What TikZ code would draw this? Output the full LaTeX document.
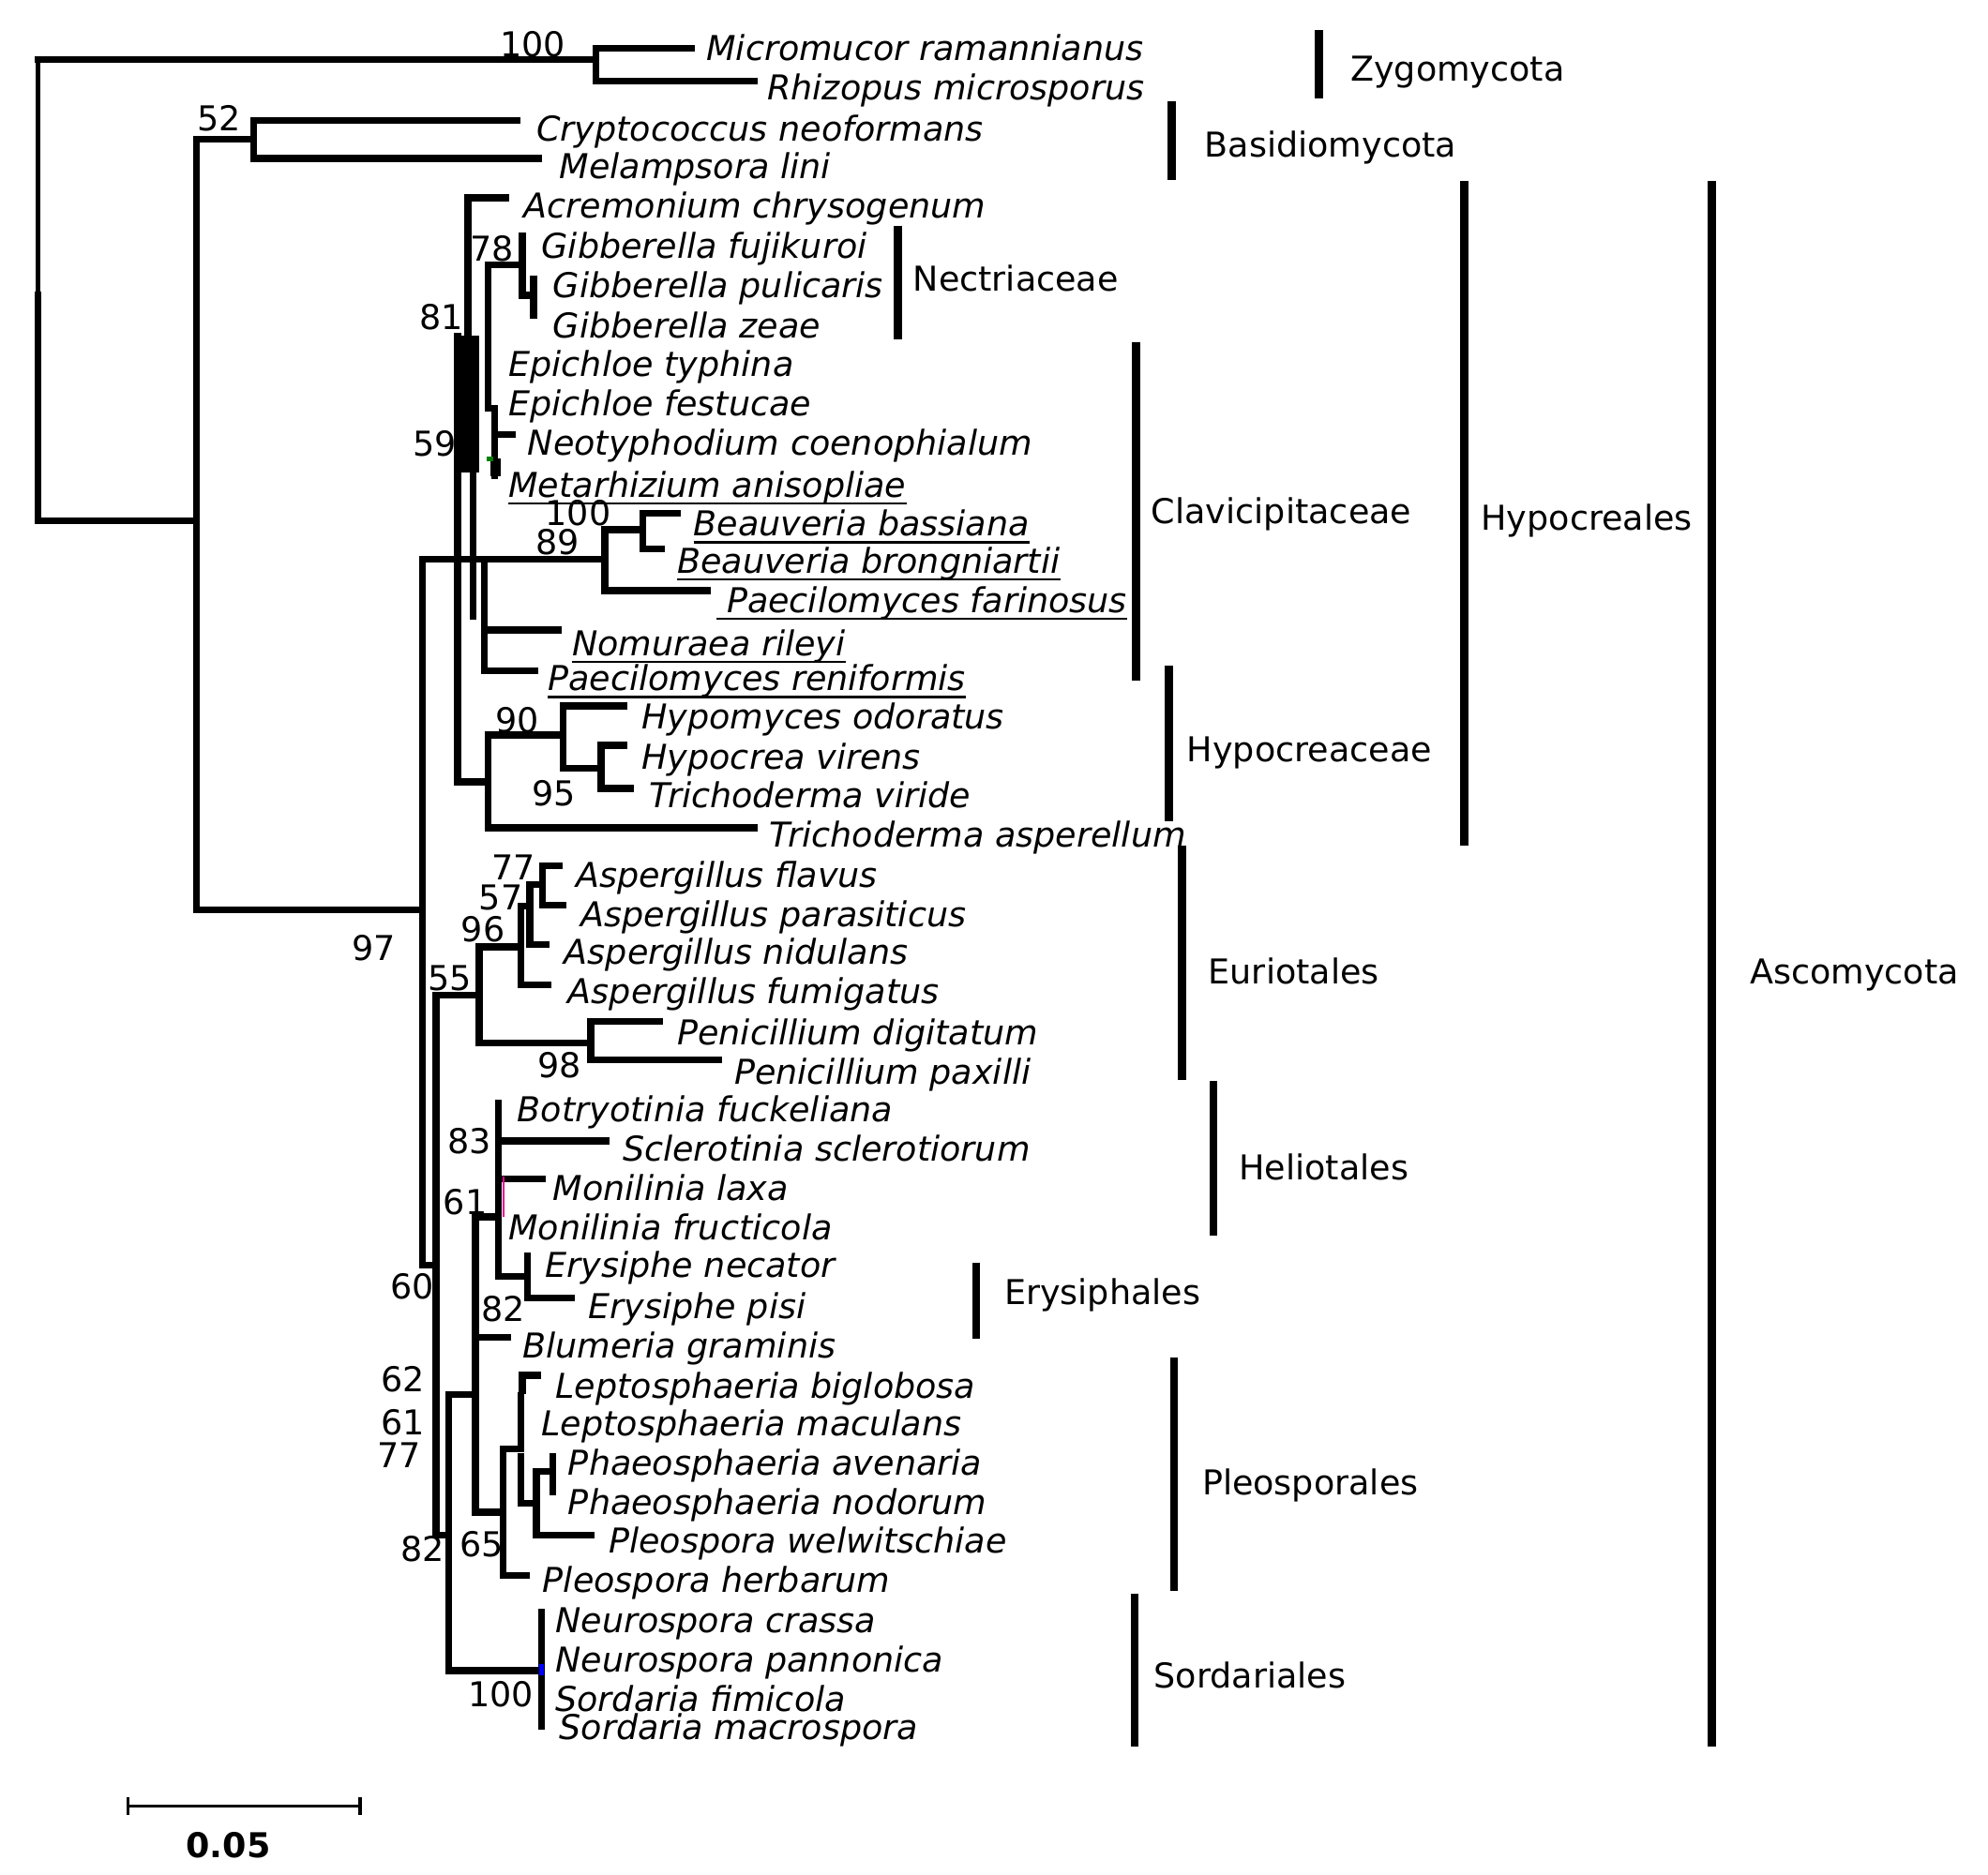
\documentclass[tikz,border=0pt]{standalone}
\usepackage{fontspec}
\setmainfont{DejaVu Sans}[ItalicFont={DejaVu Sans Oblique},BoldFont={DejaVu Sans Bold}]
\begin{document}
\begin{tikzpicture}[x=1pt,y=-1pt,
  br/.style={line width=5.5pt,line cap=rect},
  thinbr/.style={line width=3.5pt,line cap=rect},
  cbar/.style={line width=6.5pt},
  ul/.style={line width=1.8pt},
  leaf/.style={anchor=base west,inner sep=0pt,font=\fontsize{27}{32}\selectfont\itshape},
  grp/.style={anchor=base west,inner sep=0pt,font=\fontsize{27}{32}\selectfont},
  bs/.style={inner sep=0pt,font=\fontsize{27}{32}\selectfont}]
\useasboundingbox (0,0) rectangle (1568,1479);
\fill[white] (0,0) rectangle (1568,1479);

% ---------- coordinates ----------
\coordinate (rT) at (30,47);
\coordinate (rGapA) at (30,228);
\coordinate (rGapB) at (30,233);
\coordinate (rB) at (30,411);
\coordinate (nZ) at (470,47);
\coordinate (tMic) at (545,38);
\coordinate (tRhi) at (595,64);
\coordinate (nF) at (155,411);
\coordinate (nB) at (200,110);
\coordinate (tCry) at (408,95);
\coordinate (tMel) at (425,125);
\coordinate (nAsc) at (333,718);
\coordinate (nHyp) at (361,441);
\coordinate (nRest) at (344,998);
% Hypocreales
\coordinate (tHT) at (361,265);
\coordinate (tAcV) at (369,265);
\coordinate (tAcr) at (399,156);
\coordinate (tEpi) at (385,322);
\coordinate (n78) at (412,209);
\coordinate (tFuj) at (412,186);
\coordinate (nGib) at (421,233);
\coordinate (tPul) at (421,220);
\coordinate (tZea) at (421,249);
\coordinate (tNeoV) at (390,322);
\coordinate (tMetV) at (390,375);
\coordinate (tNeo) at (404,343);
\coordinate (v59a) at (373,373);
\coordinate (v59b) at (373,486);
\coordinate (nBN) at (382,441);
\coordinate (n89) at (477,441);
\coordinate (tNom) at (440,497);
\coordinate (tRen) at (422,529);
\coordinate (n100b) at (507,418);
\coordinate (tFar) at (558,466);
\coordinate (tBas) at (534,405);
\coordinate (tBro) at (522,433);
\coordinate (nHcae) at (385,617);
\coordinate (tTas) at (595,653);
\coordinate (n90) at (444,580);
\coordinate (tHyo) at (492,557);
\coordinate (n95) at (474,606);
\coordinate (tVir) at (492,588);
\coordinate (tTvi) at (497,622);
% Eurotiales
\coordinate (nEur) at (378,785);
\coordinate (nAsp) at (411,747);
\coordinate (n57) at (418,715);
\coordinate (n77) at (428,698);
\coordinate (tFla) at (441,683);
\coordinate (tPar) at (444,714);
\coordinate (tNid) at (431,745);
\coordinate (tFum) at (432,777);
\coordinate (nPen) at (466,823);
\coordinate (tDig) at (520,806);
\coordinate (tPax) at (567,836);
% rest
\coordinate (nSub) at (354,1211);
\coordinate (nAB) at (375,1100);
\coordinate (n61) at (393,960);
\coordinate (tBot) at (393,870);
\coordinate (tScl) at (478,900);
\coordinate (tLax) at (428,930);
\coordinate (nEry) at (416,1007);
\coordinate (tNec) at (416,991);
\coordinate (tPis) at (451,1024);
\coordinate (tBlu) at (400,1055);
\coordinate (nPle) at (397,1193);
\coordinate (nLep) at (411,1143);
\coordinate (tMac) at (411,1101);
\coordinate (tBigB) at (412,1097);
\coordinate (tBig) at (424,1085);
\coordinate (tPhU) at (411,1149);
\coordinate (nPW) at (423,1186);
\coordinate (nPhae) at (436,1161);
\coordinate (tAve) at (436,1149);
\coordinate (tNod) at (436,1177);
\coordinate (tWel) at (466,1211);
\coordinate (tHer) at (415,1243);
\coordinate (nSord) at (427,1318);
\coordinate (tNcr) at (427,1272);
\coordinate (tSmac) at (427,1362);

% ---------- branches ----------
\draw[thinbr] (rT) -- (rGapA);
\draw[br] (rGapB) -- (rB);
\draw[br] (rT) -- (nZ);
\draw[br] (nZ) |- (tMic);
\draw[br] (nZ) |- (tRhi);
\draw[br] (rB) -- (nF);
\draw[br] (nF) |- (nB);
\draw[br] (nB) |- (tCry);
\draw[br] (nB) |- (tMel);
\draw[br] (nF) |- (nAsc);
\draw[br] (nAsc) |- (nHyp);
\draw[br] (nAsc) |- (nRest);

% Hypocreales
\fill (359,265) rectangle (378,373);
\draw[br] (tHT) |- (nHcae);
\draw[br] (tAcV) |- (tAcr);
\draw[br] (tEpi) |- (n78);
\draw[br] (tFuj) |- (nGib);
\draw[br] (tPul) -- (tZea);
\draw[br] (tNeoV) -- (tMetV);
\draw[br] (tNeoV |- tNeo) -- (tNeo);
\fill (387,362) rectangle (395,376);
\fill[green!50!black] (384,360) rectangle (389,364);
\draw[br] (v59a) -- (v59b);
\draw[br] (nHyp) -- (nBN);
\draw[br] (nBN) -- (n89);
\draw[br] (nBN) |- (tNom);
\draw[br] (nBN) |- (tRen);
\draw[br] (n89) |- (n100b);
\draw[br] (n89) |- (tFar);
\draw[br] (n100b) |- (tBas);
\draw[br] (n100b) |- (tBro);
\draw[br] (nHcae) |- (n90);
\draw[br] (nHcae) |- (tTas);
\draw[br] (n90) |- (tHyo);
\draw[br] (n90) |- (n95);
\draw[br] (n95) |- (tVir);
\draw[br] (n95) |- (tTvi);

% Eurotiales
\draw[br] (nRest) |- (nEur);
\draw[br] (nEur) |- (nAsp);
\draw[br] (nEur) |- (nPen);
\draw[br] (nAsp) |- (n57);
\draw[br] (nAsp) |- (tFum);
\draw[br] (n57) |- (n77);
\draw[br] (n57) |- (tNid);
\draw[br] (n77) |- (tFla);
\draw[br] (n77) |- (tPar);
\draw[br] (nPen) |- (tDig);
\draw[br] (nPen) |- (tPax);

% Helotiales, Erysiphales, Pleosporales, Sordariales
\draw[br] (nRest) |- (nSub);
\draw[br] (nSub) |- (nAB);
\draw[br] (nSub) |- (nSord);
\draw[br] (tNcr) -- (tSmac);
\fill[blue] (425,1313) rectangle (429,1322);
\draw[br] (nAB) |- (n61);
\draw[br] (nAB) |- (tBlu);
\draw[br] (nAB) |- (nPle);
\draw[br] (tBot) |- (nEry);
\draw[br] (tBot |- tScl) -- (tScl);
\draw[br] (tBot |- tLax) -- (tLax);
\draw[magenta,line width=1.5pt] (397.5,928) -- (397.5,960);
\draw[br] (tNec) |- (tPis);
\draw[br] (nPle) |- (nLep);
\draw[br] (nPle) |- (tHer);
\draw[br] (nLep) -- (tMac);
\draw[br] (tBigB) |- (tBig);
\draw[br] (tPhU) |- (nPW);
\draw[br] (nPW) |- (nPhae);
\draw[br] (nPW) |- (tWel);
\draw[br] (tAve) -- (tNod);

% ---------- leaf labels ----------
\node[leaf] (lMic) at (557,48) {Micromucor ramannianus};
\node[leaf] (lRhi) at (605,79) {Rhizopus microsporus};
\node[leaf] (lCry) at (423,111) {Cryptococcus neoformans};
\node[leaf] (lMel) at (441,141) {Melampsora lini};
\node[leaf] (lAcr) at (413,172) {Acremonium chrysogenum};
\node[leaf] (lFuj) at (427,204) {Gibberella fujikuroi};
\node[leaf] (lPul) at (436,235) {Gibberella pulicaris};
\node[leaf] (lZea) at (436,267) {Gibberella zeae};
\node[leaf] (lEty) at (401,297) {Epichloe typhina};
\node[leaf] (lEfe) at (401,328) {Epichloe festucae};
\node[leaf] (lNeo) at (416,359) {Neotyphodium coenophialum};
\node[leaf] (lMet) at (401,392) {Metarhizium anisopliae};
\node[leaf] (lBas) at (547,423) {Beauveria bassiana};
\node[leaf] (lBro) at (534,452) {Beauveria brongniartii};
\node[leaf] (lFar) at (573,483) {Paecilomyces farinosus};
\node[leaf] (lNom) at (451,517) {Nomuraea rileyi};
\node[leaf] (lRen) at (432,545) {Paecilomyces reniformis};
\node[leaf] (lHyo) at (506,575) {Hypomyces odoratus};
\node[leaf] (lVir) at (506,607) {Hypocrea virens};
\node[leaf] (lTvi) at (512,637) {Trichoderma viride};
\node[leaf] (lTas) at (607,668) {Trichoderma asperellum};
\node[leaf] (lFla) at (454,700) {Aspergillus flavus};
\node[leaf] (lPar) at (458,731) {Aspergillus parasiticus};
\node[leaf] (lNid) at (445,761) {Aspergillus nidulans};
\node[leaf] (lFum) at (448,792) {Aspergillus fumigatus};
\node[leaf] (lDig) at (534,824) {Penicillium digitatum};
\node[leaf] (lPax) at (579,855) {Penicillium paxilli};
\node[leaf] (lBot) at (408,885) {Botryotinia fuckeliana};
\node[leaf] (lScl) at (491,916) {Sclerotinia sclerotiorum};
\node[leaf] (lLax) at (436,947) {Monilinia laxa};
\node[leaf] (lFru) at (401,978) {Monilinia fructicola};
\node[leaf] (lNec) at (430,1008) {Erysiphe necator};
\node[leaf] (lPis) at (464,1040) {Erysiphe pisi};
\node[leaf] (lBlu) at (412,1071) {Blumeria graminis};
\node[leaf] (lBig) at (438,1103) {Leptosphaeria biglobosa};
\node[leaf] (lMac) at (427,1133) {Leptosphaeria maculans};
\node[leaf] (lAve) at (448,1164) {Phaeosphaeria avenaria};
\node[leaf] (lNod) at (448,1195) {Phaeosphaeria nodorum};
\node[leaf] (lWel) at (480,1225) {Pleospora welwitschiae};
\node[leaf] (lHer) at (428,1256) {Pleospora herbarum};
\node[leaf] (lNcr) at (438,1288) {Neurospora crassa};
\node[leaf] (lNpa) at (438,1319) {Neurospora pannonica};
\node[leaf] (lSfi) at (438,1350) {Sordaria fimicola};
\node[leaf] (lSma) at (441,1372) {Sordaria macrospora};

% underlines
\foreach \n in {lMet,lBas,lBro,lNom,lRen}
  \draw[ul] ([yshift=-5pt]\n.base west) -- ([yshift=-5pt]\n.base east);
\draw[ul] ([xshift=-8pt,yshift=-5pt]lFar.base west) -- ([yshift=-5pt]lFar.base east);

% ---------- bootstrap values ----------
\node[bs] (b1) at (420,35) {100};
\node[bs] (b2) at (173,93) {52};
\node[bs] (b3) at (388,196) {78};
\node[bs] (b4) at (348,250) {81};
\node[bs] (b5) at (343,350) {59};
\node[bs] (b6) at (456,405) {100};
\node[bs] (b7) at (440,428) {89};
\node[bs] (b8) at (408,568) {90};
\node[bs] (b9) at (437,626) {95};
\node[bs] (b10) at (405,684) {77};
\node[bs] (b11) at (395,708) {57};
\node[bs] (b12) at (381,733) {96};
\node[bs] (b13) at (295,748) {97};
\node[bs] (b14) at (355,772) {55};
\node[bs] (b15) at (441,840) {98};
\node[bs] (b16) at (370,900) {83};
\node[bs] (b17) at (367,948) {61};
\node[bs] (b18) at (325,1015) {60};
\node[bs] (b19) at (397,1033) {82};
\node[bs] (b20) at (318,1088) {62};
\node[bs] (b21) at (318,1122) {61};
\node[bs] (b22) at (315,1148) {77};
\node[bs] (b23) at (380,1218) {65};
\node[bs] (b24) at (333,1222) {82};
\node[bs] (b25) at (395,1337) {100};

% ---------- clade bars ----------
\draw[cbar] (1040,24) -- (1040,78);
\node[grp] (gZyg) at (1065,64) {Zygomycota};
\draw[cbar] (924,80) -- (924,142);
\node[grp] (gBas) at (950,124) {Basidiomycota};
\draw[cbar] (708,178) -- (708,268);
\node[grp] (gNec) at (720,230) {Nectriaceae};
\draw[cbar] (896,270) -- (896,537);
\node[grp] (gCla) at (908,413) {Clavicipitaceae};
\draw[cbar] (1155,143) -- (1155,667);
\node[grp] (gHyp) at (1168,418) {Hypocreales};
\draw[cbar] (1350,143) -- (1350,1378);
\node[grp] (gAsc) at (1380,776) {Ascomycota};
\draw[cbar] (922,525) -- (922,648);
\node[grp] (gHcae) at (936,601) {Hypocreaceae};
\draw[cbar] (932,667) -- (932,852);
\node[grp] (gEur) at (953,776) {Euriotales};
\draw[cbar] (957,853) -- (957,975);
\node[grp] (gHel) at (977,931) {Heliotales};
\draw[cbar] (770,996) -- (770,1056);
\node[grp] (gEry) at (792,1029) {Erysiphales};
\draw[cbar] (926,1071) -- (926,1255);
\node[grp] (gPle) at (948,1179) {Pleosporales};
\draw[cbar] (895,1257) -- (895,1378);
\node[grp] (gSor) at (910,1332) {Sordariales};

% ---------- scale bar ----------
\coordinate (sA) at (101,1425);
\coordinate (sB) at (284,1425);
\draw[line width=2.5pt] (sA) -- (sB);
\draw[line width=2.5pt] ([yshift=7pt]sA) -- ([yshift=-7pt]sA);
\draw[line width=2.5pt] ([yshift=7pt]sB) -- ([yshift=-7pt]sB);
\node[bs,font=\fontsize{27}{32}\selectfont\bfseries] (sl) at (180,1456) {0.05};
\end{tikzpicture}
\end{document}
